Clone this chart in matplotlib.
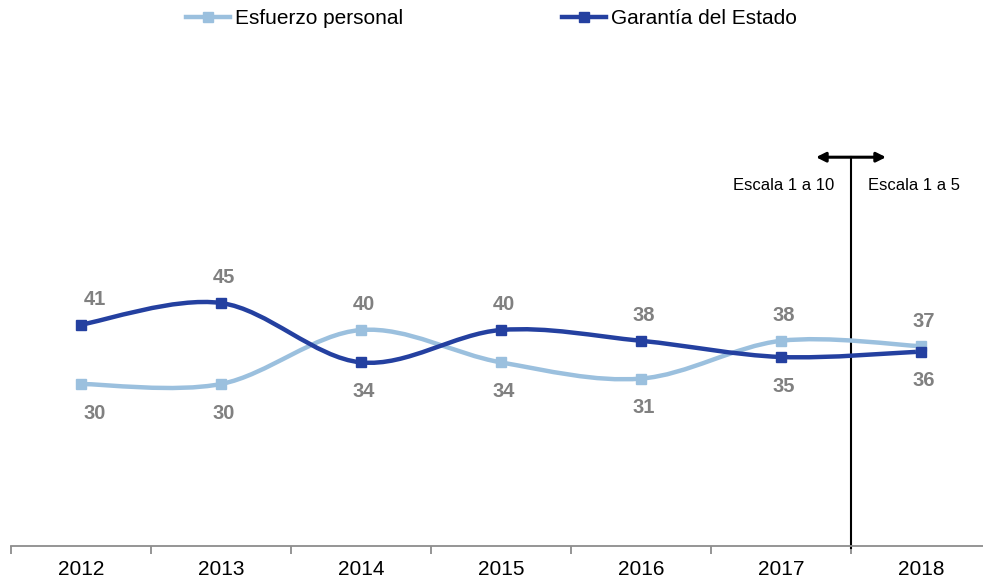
import numpy as np
import matplotlib
matplotlib.use("Agg")
import matplotlib.pyplot as plt
from matplotlib.path import Path
from matplotlib.patches import PathPatch
from matplotlib.lines import Line2D

plt.rcParams['font.family'] = ['Liberation Sans', 'DejaVu Sans']

# data
years = ['2012', '2013', '2014', '2015', '2016', '2017', '2018']
esfuerzo = [30, 30, 40, 34, 31, 38, 37]
garantia = [41, 45, 34, 40, 38, 35, 36]
series_names = ['Esfuerzo personal', 'Garantía del Estado']

light_blue = '#9bc0de'
dark_blue = '#2440a0'
label_gray = '#808080'


def smooth_path(xs, ys):
    # catmull-rom style bezier through the points (like excel's smoothed line)
    pts = np.column_stack([xs, ys]).astype(float)
    padded = np.vstack([pts[0], pts, pts[-1]])
    verts = [pts[0]]
    codes = [Path.MOVETO]
    for i in range(len(pts) - 1):
        p0, p1, p2, p3 = padded[i], padded[i + 1], padded[i + 2], padded[i + 3]
        c1 = p1 + (p2 - p0) / 6
        c2 = p2 - (p3 - p1) / 6
        verts += [c1, c2, p2]
        codes += [Path.CURVE4] * 3
    return Path(verts, codes)


fig = plt.figure(figsize=(9.83, 5.8), dpi=100)
ax = fig.add_axes([11 / 983, 34 / 580, 980 / 983, 432 / 580])

x = np.arange(len(years))
for vals, col in [(esfuerzo, light_blue), (garantia, dark_blue)]:
    patch = PathPatch(smooth_path(x, vals), fill=False, edgecolor=col, lw=3.2,
                      capstyle='round', joinstyle='round', zorder=3)
    ax.add_patch(patch)
    ax.plot(x, vals, ls='none', marker='s', ms=7.5, color=col, zorder=4)

# data labels, placed above for the higher series and below for the lower one
for i in range(len(years)):
    dx = 10 if i == 0 else 2
    for vals, other in [(esfuerzo, garantia), (garantia, esfuerzo)]:
        dy = 18 if vals[i] >= other[i] else -21
        ax.annotate(str(vals[i]), (x[i], vals[i]), xytext=(dx, dy),
                    textcoords='offset points', ha='center', va='center',
                    fontsize=14.5, fontweight='bold', color=label_gray, zorder=5)

# scale change marker
ax.plot([5.5, 5.5], [-0.3, 72], color='black', lw=1.5, zorder=2, clip_on=False)
ax.annotate('', xy=(5.25, 72), xytext=(5.75, 72),
            arrowprops=dict(arrowstyle='<|-|>', color='black', lw=2.2,
                            mutation_scale=14, shrinkA=0, shrinkB=0))
ax.text(5.38, 66.8, 'Escala 1 a 10', ha='right', va='center', fontsize=12)
ax.text(5.62, 66.8, 'Escala 1 a 5', ha='left', va='center', fontsize=12)

ax.set_xlim(-0.5, 6.5)
ax.set_ylim(0, 80)
for side in ['top', 'left', 'right']:
    ax.spines[side].set_visible(False)
ax.spines['bottom'].set_color('#8c8c8c')
ax.spines['bottom'].set_linewidth(1.3)
ax.set_yticks([])
ax.set_xticks(np.arange(-0.5, 7, 1))
ax.set_xticklabels([])
ax.tick_params(axis='x', which='major', length=6, width=1.3, color='#8c8c8c')
ax.set_xticks(x, minor=True)
ax.set_xticklabels(years, minor=True, fontsize=15)
ax.tick_params(axis='x', which='minor', length=0, pad=10)

handles = [Line2D([], [], color=light_blue, lw=3.2, marker='s', ms=7.5),
           Line2D([], [], color=dark_blue, lw=3.2, marker='s', ms=7.5)]
fig.legend(handles, series_names, loc='center', bbox_to_anchor=(0.5, 1 - 19 / 580),
           ncol=2, frameon=False, fontsize=15, handlelength=2.1,
           handletextpad=0.25, columnspacing=7.6)

fig.savefig('out.png', dpi=100)
